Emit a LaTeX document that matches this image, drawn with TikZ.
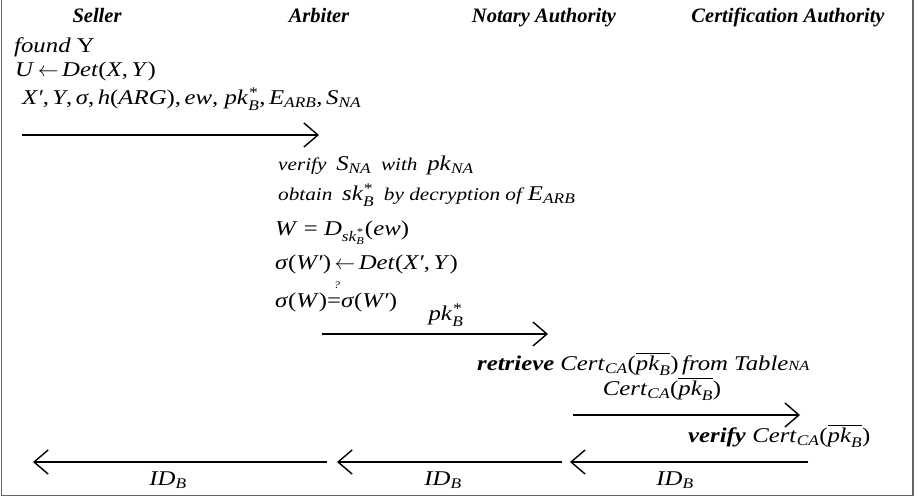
\documentclass[tikz,border=0pt]{standalone}
\usepackage{amsmath}
\usepackage{fontspec}
\setmainfont{Liberation Serif}[FakeStretch=1.18]
\newfontfamily\hdrfont{Liberation Serif}
\usetikzlibrary{arrows.meta}
\newcommand\I[1]{\textit{#1}}
\newcommand\Sb[1]{$_{\textit{#1}}$}
\newcommand\SbSp[2]{$^{\textit{#2}}_{\textit{#1}}$}
\newcommand\OvPk{$\overline{\textit{pk}_{\textit{B}}}$}
\newcommand\Sm[1]{{\fontsize{18}{20}\selectfont\textit{#1}}}
\begin{document}
\begin{tikzpicture}[x=1pt,y=-1pt,
  hdr/.style={font=\hdrfont\fontsize{20.5}{24}\selectfont\bfseries\itshape, inner sep=0pt, anchor=base},
  txt/.style={font=\fontsize{21}{24}\selectfont, anchor=west, inner sep=0pt},
  lbl/.style={font=\fontsize{21}{24}\selectfont, inner sep=0pt},
  msg/.style={line width=1.5pt, -{Straight Barb[length=14pt,width=24pt,line width=1.4pt]}},
  frame/.style={draw=black!60, line width=1.8pt}]
\useasboundingbox (0,0) rectangle (918,500);
\draw[frame] (1.5,0) -- (1.5,495.5) -- (913,495.5) -- (913,0);
% headers
\node[hdr] (hs) at (97,23) {Seller};
\node[hdr] (ha) at (319,23) {Arbiter};
\node[hdr] (hn) at (544,23) {Notary Authority};
\node[hdr] (hc) at (788,23) {Certification Authority};
% seller
\node[txt] (t1) at (14,47) {\I{found} Y};
\node[txt] (t2) at (15,71) {\I{U}\,$\leftarrow$\,\I{Det}(\I{X},\,\I{Y})};
\node[txt] (t3) at (22,99) {\I{X′},\,\I{Y},\,\I{σ},\,\I{h}(\I{ARG}),\,\I{ew}, \I{pk}\SbSp{B}{*},\,\I{E}\Sb{ARB},\,\I{S}\Sb{NA}};
\coordinate (a1s) at (22,135);
\coordinate (a1e) at (319,135);
\draw[msg] (a1s) -- (a1e);
% arbiter
\node[txt] (t4) at (278,165) {\Sm{verify}\, \I{S}\Sb{NA}\, \Sm{with}\, \I{pk}\Sb{NA}};
\node[txt] (t5) at (278,195) {\Sm{obtain}\, \I{sk}\SbSp{B}{*}\, \Sm{by decryption of}\,\I{E}\Sb{ARB}};
\node[txt] (t6) at (275,233) {\I{W} = \I{D}$_{\textit{sk}^{\textit{*}}_{\textit{B}}}$(\I{ew})};
\node[txt] (t7) at (275,264) {\I{σ}(\I{W′})\,$\leftarrow$\,\I{Det}(\I{X′},\,\I{Y})};
\node[font=\fontsize{10}{10}\selectfont\itshape, inner sep=0pt] (q) at (337,285) {?};
\node[txt] (t8) at (275,302) {\I{σ}(\I{W})\textup{=}\I{σ}(\I{W′})};
\node[lbl] (l2) at (446,315) {\I{pk}\SbSp{B}{*}};
\coordinate (a2s) at (322,334);
\coordinate (a2e) at (548,334);
\draw[msg] (a2s) -- (a2e);
% notary
\node[txt] (t9) at (477,364) {\textbf{\I{retrieve}} \I{Cert}\Sb{CA}(\OvPk)\,\I{from Table}{\fontsize{14}{14}\selectfont\I{NA}}};
\node[lbl] (l3) at (662,389) {\I{Cert}\Sb{CA}(\OvPk)};
\coordinate (a3s) at (573,415);
\coordinate (a3e) at (800,415);
\draw[msg] (a3s) -- (a3e);
% CA
\node[txt] (t10) at (688,436) {\textbf{\I{verify}} \I{Cert}\Sb{CA}(\OvPk)};
% returns
\coordinate (b3s) at (808,462);
\coordinate (b3e) at (570,462);
\coordinate (b2s) at (562,462);
\coordinate (b2e) at (337,462);
\coordinate (b1s) at (327,462);
\coordinate (b1e) at (33,462);
\draw[msg] (b3s) -- (b3e);
\draw[msg] (b2s) -- (b2e);
\draw[msg] (b1s) -- (b1e);
\node[lbl] (i3) at (675,480) {\I{ID}\Sb{B}};
\node[lbl] (i2) at (443,480) {\I{ID}\Sb{B}};
\node[lbl] (i1) at (168,480) {\I{ID}\Sb{B}};
\end{tikzpicture}
\end{document}
